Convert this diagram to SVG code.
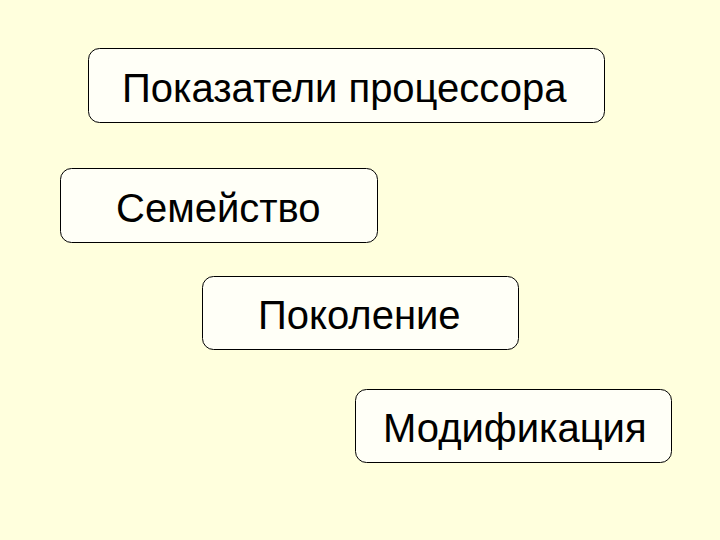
<svg xmlns="http://www.w3.org/2000/svg" width="720" height="540" viewBox="0 0 720 540">
<style>
.box{fill:#FFFFF7;stroke:#000;stroke-width:1}
.t{font-family:"Liberation Sans",Arial,sans-serif;font-size:40px;fill:#000}
</style>
<rect x="0" y="0" width="720" height="540" fill="#FFFFDD"/>
<g id="n1"><rect class="box" x="88.5" y="48.5" width="516" height="74" rx="11"/><text class="t" x="122" y="102">Показатели процессора</text></g>
<g id="n2"><rect class="box" x="60.5" y="168.5" width="317" height="74" rx="11"/><text class="t" x="116" y="222">Семейство</text></g>
<g id="n3"><rect class="box" x="202.5" y="276.5" width="316" height="73" rx="11"/><text class="t" x="258" y="329">Поколение</text></g>
<g id="n4"><rect class="box" x="355.5" y="389.5" width="316" height="73" rx="11"/><text class="t" x="383" y="442">Модификация</text></g>
<g id="connectors"></g>
</svg>
